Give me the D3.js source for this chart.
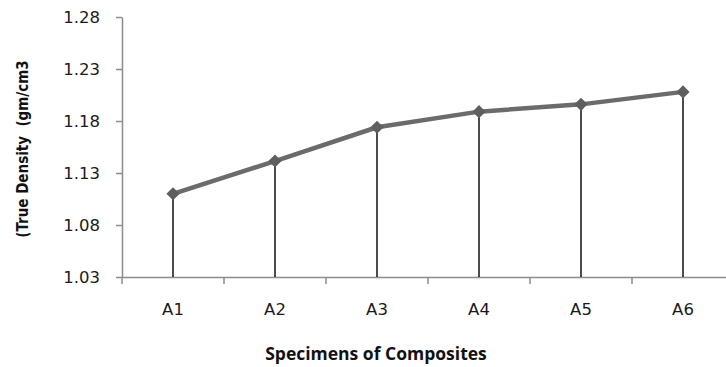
<!DOCTYPE html>
<html>
<head>
<meta charset="utf-8">
<script src="https://cdn.jsdelivr.net/npm/d3@7"></script>
<style>
  html, body { margin: 0; padding: 0; background: #fff; }
  svg { display: block; }
</style>
</head>
<body>
<div id="chart"></div>
<script>
const specimens = ['A1', 'A2', 'A3', 'A4', 'A5', 'A6'];
const trueDensity = [1.110, 1.1415, 1.174, 1.189, 1.196, 1.208];
const yTicks = [1.03, 1.08, 1.13, 1.18, 1.23, 1.28];

const width = 726;
const height = 367;
const margin = { top: 17, right: -8, bottom: 90, left: 122 };

const svg = d3.select('#chart').append('svg')
  .attr('width', width)
  .attr('height', height);

const x = d3.scaleBand()
  .domain(specimens)
  .range([margin.left, width - margin.right]);

const y = d3.scaleLinear()
  .domain([1.03, 1.28])
  .range([height - margin.bottom, margin.top]);

const axisColor = '#8c8c8c';
const labelFont = "'DejaVu Sans', Verdana, 'Noto Sans', sans-serif";

// y axis
const gy = svg.append('g')
  .attr('transform', `translate(${margin.left},0)`)
  .call(d3.axisLeft(y).tickValues(yTicks).tickFormat(d3.format('.2f')).tickSize(6).tickPadding(16).tickSizeOuter(0));
gy.attr('font-family', labelFont).attr('font-size', 16.5);
gy.select('.domain').attr('stroke', axisColor).attr('stroke-width', 1.5);
gy.selectAll('.tick line').attr('stroke', axisColor).attr('stroke-width', 1.5);
gy.selectAll('.tick text').attr('fill', '#1a1a1a');

// x axis with ticks at category boundaries
const gx = svg.append('g')
  .attr('transform', `translate(0,${y(1.03)})`)
  .call(d3.axisBottom(x).tickSize(0).tickPadding(26));
gx.attr('font-family', labelFont).attr('font-size', 16.5);
gx.select('.domain').attr('stroke', axisColor).attr('stroke-width', 1.5);
gx.selectAll('.tick text').attr('fill', '#1a1a1a');
gx.selectAll('.boundary')
  .data(specimens.concat(['end']))
  .enter().append('line')
  .attr('class', 'boundary')
  .attr('x1', (d, i) => x.range()[0] + i * x.step())
  .attr('x2', (d, i) => x.range()[0] + i * x.step())
  .attr('y1', 0)
  .attr('y2', 7)
  .attr('stroke', axisColor)
  .attr('stroke-width', 1.5);

const cx = d => x(d) + x.bandwidth() / 2;

// drop lines
svg.append('g')
  .selectAll('line')
  .data(specimens)
  .enter().append('line')
  .attr('x1', cx)
  .attr('x2', cx)
  .attr('y1', (d, i) => y(trueDensity[i]))
  .attr('y2', y(1.03))
  .attr('stroke', '#111')
  .attr('stroke-width', 1.5);

// series line
const line = d3.line()
  .x((d, i) => cx(specimens[i]))
  .y(d => y(d));

svg.append('path')
  .datum(trueDensity)
  .attr('fill', 'none')
  .attr('stroke', '#6b6b6b')
  .attr('stroke-width', 4.5)
  .attr('stroke-linejoin', 'round')
  .attr('d', line);

// diamond markers
svg.append('g')
  .selectAll('path')
  .data(trueDensity)
  .enter().append('path')
  .attr('transform', (d, i) => `translate(${cx(specimens[i])},${y(d)})`)
  .attr('d', d3.symbol().type(d3.symbolDiamond2).size(110))
  .attr('fill', '#5e5e5e');

// axis titles
svg.append('text')
  .attr('transform', `translate(28,${(margin.top + y(1.03)) / 2 + 2}) rotate(-90)`)
  .attr('text-anchor', 'middle')
  .attr('fill', '#111')
  .attr('font-family', "'DejaVu Sans Condensed', 'Open Sans', sans-serif")
  .attr('font-weight', 'bold')
  .attr('font-size', 15)
  .style('white-space', 'pre')
  .text('(True Density  (gm/cm3');

svg.append('text')
  .attr('x', 376)
  .attr('y', 360)
  .attr('text-anchor', 'middle')
  .attr('fill', '#111')
  .attr('font-family', "'Open Sans', Lato, sans-serif")
  .attr('font-weight', 'bold')
  .attr('font-size', 17.5)
  .text('Specimens of Composites');
</script>
</body>
</html>
